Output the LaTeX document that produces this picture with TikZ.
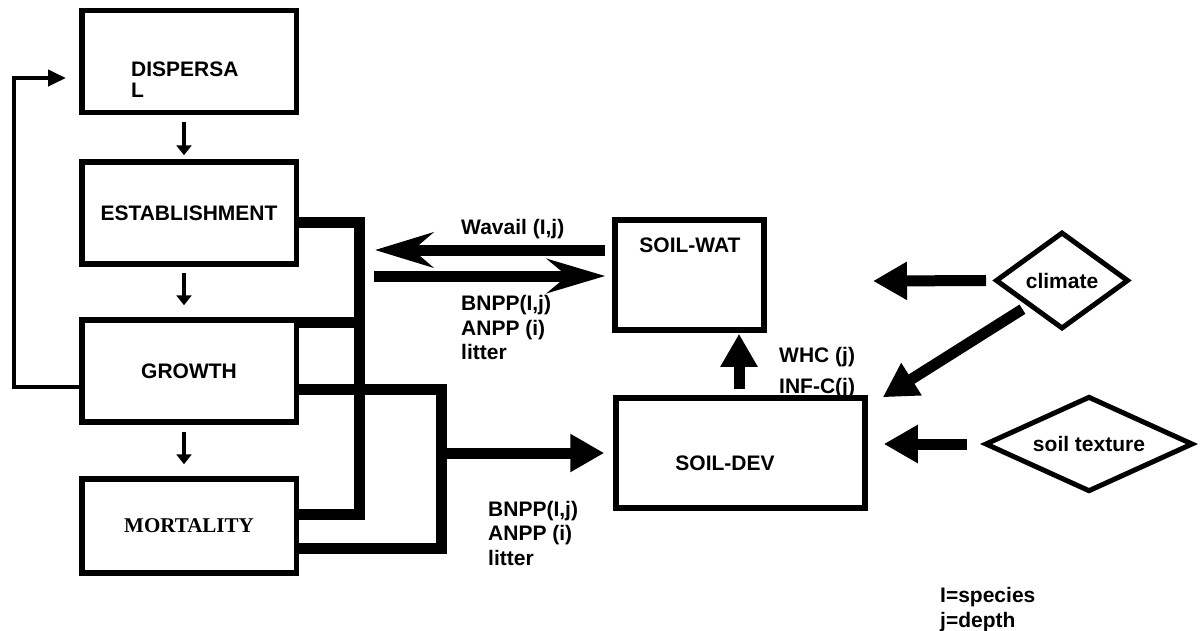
\documentclass[tikz,border=0pt]{standalone}
\usepackage{fontspec}
\setmainfont{Liberation Sans}
\newfontfamily\timesbold{Liberation Serif}
\usetikzlibrary{arrows.meta, positioning, shapes.geometric}

\begin{document}
\begin{tikzpicture}[
  x=1pt, y=-1pt,
  box/.style={draw, line width=5.5pt, minimum width=214.5pt, minimum height=102pt, inner sep=0pt,
    font=\bfseries\fontsize{21}{24.5}\selectfont},
  choice/.style={draw, diamond, aspect=1.4, line width=5pt, inner sep=0pt,
    font=\bfseries\fontsize{21}{24.5}\selectfont},
  lbl/.style={font=\bfseries\fontsize{21}{24.5}\selectfont, inner sep=0pt, align=left},
  flow/.style={-{Triangle[length=10pt,width=15pt]}, line width=3.5pt},
  bus/.style={line width=11pt, line join=miter},
  fat/.style={-{Triangle[length=34pt,width=36pt]}, line width=11pt}
]
\useasboundingbox (0,0) rectangle (1204,630);

% plant life cycle
\node[box] (disp) at (189,61.5) {};
\node[lbl, anchor=west, font=\bfseries\fontsize{21}{21}\selectfont] (disptxt) at (131,79.2) {DISPERSA\\L};
\node[box] (estab) at (189,213) {ESTABLISHMENT};
\node[box] (growth) at (189,371) {GROWTH};
\node[box, minimum height=94pt, font=\timesbold\bfseries\fontsize{21}{24.5}\selectfont] (mort) at (189,526) {MORTALITY};

\draw[flow, shorten <=7pt, shorten >=4pt] ([xshift=-5pt]disp.south) -- ([xshift=-5pt]estab.north);
\draw[flow, shorten <=6pt, shorten >=12pt] ([xshift=-5pt]estab.south) -- ([xshift=-5pt]growth.north);
\draw[flow, shorten <=7pt, shorten >=12pt] ([xshift=-5pt]growth.south) -- ([xshift=-5pt]mort.north);

% feedback to dispersal
\coordinate (loopturn) at (14,78);
\draw[flow, line width=4pt, -{Triangle[length=18pt,width=16pt]}, shorten >=13pt]
  ([yshift=-16pt]growth.west) -| (loopturn) -- ([yshift=-16.5pt]disp.west);

% soil boxes
\node[box, minimum width=149pt, minimum height=110pt] (soilwat) at (689.5,275) {};
\node[lbl] (wattxt) at (690,245) {SOIL-WAT};
\node[box, minimum width=249pt, minimum height=110pt] (soildev) at (740.5,453) {};
\node[lbl] (devtxt) at (725,463) {SOIL-DEV};

% drivers
\node[choice, minimum width=133pt, minimum height=97pt] (climate) at (1062,280.5) {climate};
\node[choice, minimum width=208pt, minimum height=91pt] (texture) at (1089,444) {soil texture};

% collectors
\coordinate (busA) at (359,400);
\coordinate (busB) at (441,453);
\draw[bus] ([yshift=-9pt]estab.east) -| (busA) |- ([yshift=12pt]mort.east);
\draw[bus] ([xshift=-3pt,yshift=-5pt]growth.north east) -| (busA);
\draw[bus] ([yshift=-18pt]growth.east) -| (busB) |- ([yshift=-22pt]mort.east);

% water exchange
\coordinate (wavtip) at (375,250);
\coordinate (bnppstart) at (374,276);
\draw[fat, -{Stealth[length=58pt,width=35pt,inset=20pt]}, shorten <=7pt]
  ([yshift=25pt]soilwat.west) -- (wavtip);
\draw[fat, -{Stealth[length=58pt,width=34pt,inset=20pt]}, shorten >=7pt]
  (bnppstart) -- ([yshift=-1pt]soilwat.west);
\draw[fat, shorten >=9pt] (busB) -- (soildev.west);
\draw[fat, -{Triangle[length=33pt,width=35pt]}, shorten <=6pt, shorten >=1pt]
  ([xshift=-1.5pt]soildev.north) -- ([xshift=-1.5pt]soildev.north |- soilwat.south);

% external inputs
\coordinate (climtip) at (873,281);
\draw[fat, shorten <=7pt] (climate.west) -- (climtip);
\draw[fat, shorten <=6pt] (climate.south west) -- ([xshift=15pt,yshift=-2pt]soildev.north east);
\draw[fat, shorten <=16pt, shorten >=16pt] (texture.west) -- (texture.west -| soildev.east);

% labels
\node[lbl, anchor=west] (wavail) at (461,229) {Wavail (I,j)};
\node[lbl, anchor=west] (uptake) at (461,327.5) {BNPP(I,j)\\ANPP (i)\\litter};
\node[lbl, anchor=west] (deadmass) at (488,533) {BNPP(I,j)\\ANPP (i)\\litter};
\node[lbl, anchor=west, font=\bfseries\fontsize{21}{31}\selectfont] (soilprops) at (779,372.5) {WHC (j)\\INF-C(j)};
\node[lbl, anchor=west, font=\bfseries\fontsize{21}{25}\selectfont] (legend) at (940,609.5) {I=species\\j=depth};
\end{tikzpicture}
\end{document}
